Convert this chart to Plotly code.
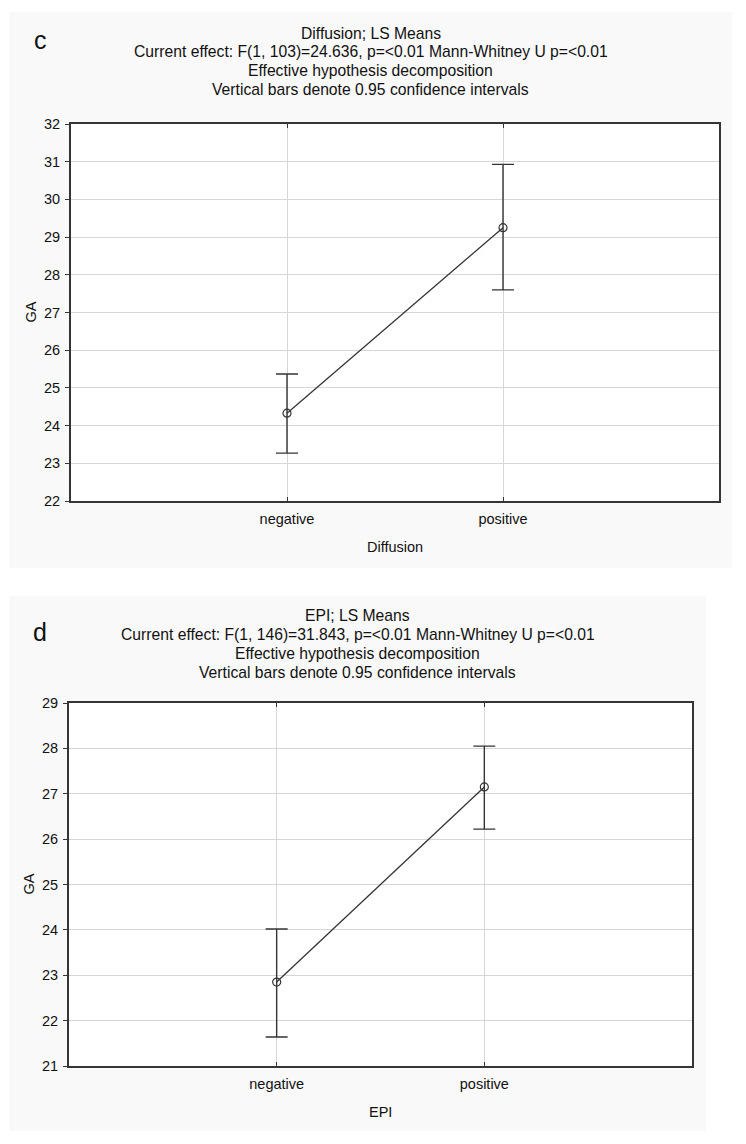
import plotly.graph_objects as go

W, H = 746, 1144

groups = ['negative', 'positive']

# panel c - Diffusion (LS means with 0.95 CI)
diff_mean = [24.33, 29.25]
diff_low = [23.27, 27.60]
diff_high = [25.37, 30.93]

# panel d - EPI
epi_mean = [22.85, 27.15]
epi_low = [21.64, 26.22]
epi_high = [24.02, 28.05]

titles_c = ['Diffusion; LS Means',
            'Current effect: F(1, 103)=24.636, p=<0.01 Mann-Whitney U p=<0.01',
            'Effective hypothesis decomposition',
            'Vertical bars denote 0.95 confidence intervals']
titles_d = ['EPI; LS Means',
            'Current effect: F(1, 146)=31.843, p=<0.01 Mann-Whitney U p=<0.01',
            'Effective hypothesis decomposition',
            'Vertical bars denote 0.95 confidence intervals']

FONT = 'Liberation Sans, Arial, sans-serif'
INK = '#353535'
TXT = '#111111'

# page pixel -> paper fraction (the page is shown offset/compressed a little)
OX, OY, HH = 8, 16, 1128


def px(x):
    return (x - OX) / W


def py(y):
    return 1 - (y - OY) / HH


fig = go.Figure()

panels = [
    ('', diff_mean, diff_low, diff_high, (71, 124, 719, 501), (9, 12, 732, 568), (22, 32),
     titles_c, 'c', (40, 40), 'Diffusion', 33, 30),
    ('2', epi_mean, epi_low, epi_high, (69, 703, 692, 1066), (9, 596, 706, 1131), (21, 29),
     titles_d, 'd', (40, 632), 'EPI', 615, 28),
]

shapes = []
annotations = []
for suffix, mean, low, high, box, bg, yr, titles, letter, lpos, xlabel, ty, gax in panels:
    l, t, r, b = box
    shapes.append(dict(type='rect', xref='paper', yref='paper',
                       x0=px(bg[0]), x1=px(bg[2]), y0=py(bg[3]), y1=py(bg[1]),
                       fillcolor='#f9f9f9', line=dict(width=0), layer='below'))
    shapes.append(dict(type='rect', xref='paper', yref='paper',
                       x0=px(l), x1=px(r), y0=py(b), y1=py(t),
                       fillcolor='white', line=dict(width=0), layer='below'))
    plus = [h - m for h, m in zip(high, mean)]
    minus = [m - lo for m, lo in zip(mean, low)]
    fig.add_trace(go.Scatter(
        x=[0, 1], y=mean, mode='lines+markers',
        xaxis='x' + suffix, yaxis='y' + suffix,
        line=dict(color=INK, width=1.3),
        marker=dict(symbol='circle-open', size=8, color=INK, line=dict(width=1.2)),
        error_y=dict(type='data', symmetric=False, array=plus, arrayminus=minus,
                     color=INK, thickness=1.4, width=11),
        showlegend=False))
    axcommon = dict(showline=True, linecolor=INK, linewidth=1.8,
                    showgrid=True, gridcolor='#d6d6d6', gridwidth=1.3, zeroline=False,
                    tickfont=dict(family=FONT, size=14.5, color=TXT))
    fig.layout['xaxis' + suffix] = dict(
        domain=[px(l), px(r)], anchor='y' + suffix, range=[-1, 2], mirror='ticks',
        tickvals=[0, 1], ticktext=groups, ticks='inside', ticklen=4, tickcolor=INK,
        ticklabelstandoff=4, **axcommon)
    fig.layout['yaxis' + suffix] = dict(
        domain=[py(b), py(t)], anchor='x' + suffix, range=list(yr), dtick=1, mirror=True,
        ticks='outside', ticklen=4, tickcolor=INK, ticklabelstandoff=2, **axcommon)
    for i, txt in enumerate(titles):
        annotations.append(dict(xref='paper', yref='paper', x=px((bg[0] + bg[2]) / 2),
                                y=py(ty + i * 19), text=txt, showarrow=False,
                                font=dict(family=FONT, size=15.7, color=TXT),
                                xanchor='center', yanchor='middle'))
    annotations.append(dict(xref='paper', yref='paper', x=px(lpos[0]), y=py(lpos[1]),
                            text=letter, showarrow=False,
                            font=dict(family=FONT, size=25, color=TXT),
                            xanchor='center', yanchor='middle'))
    annotations.append(dict(xref='paper', yref='paper', x=px((l + r) / 2), y=py(b + 46),
                            text=xlabel, showarrow=False,
                            font=dict(family=FONT, size=14.5, color=TXT),
                            xanchor='center', yanchor='middle'))
    annotations.append(dict(xref='paper', yref='paper', x=px(gax), y=py((t + b) / 2),
                            text='GA', textangle=-90, showarrow=False,
                            font=dict(family=FONT, size=14.5, color=TXT),
                            xanchor='center', yanchor='middle'))

fig.update_layout(width=W, height=H, margin=dict(l=0, r=0, t=0, b=0),
                  paper_bgcolor='white', plot_bgcolor='white',
                  shapes=shapes, annotations=annotations)

fig.write_html('out.html')
